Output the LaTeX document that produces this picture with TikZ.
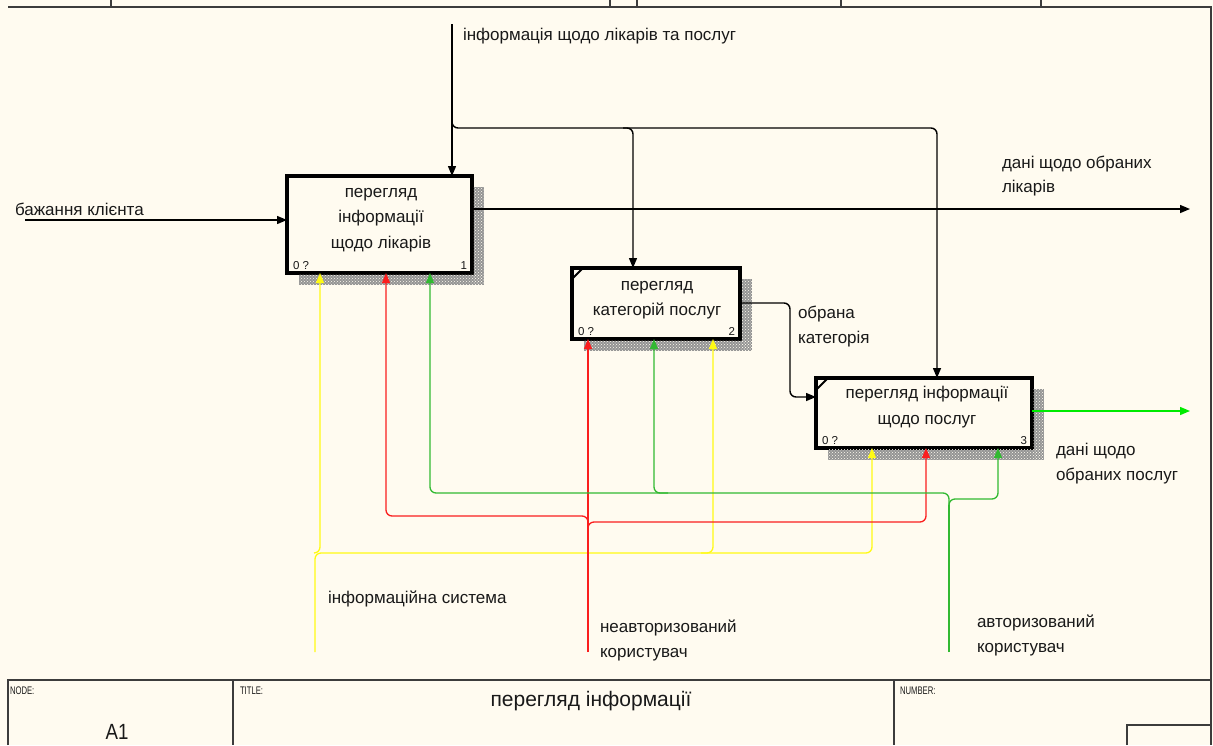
\documentclass[tikz,border=0pt]{standalone}
\usepackage{fontspec}
\setmainfont{Liberation Sans}
\usetikzlibrary{arrows.meta,calc,patterns}

\definecolor{paper}{RGB}{255,251,240}
\definecolor{ink}{RGB}{25,25,25}
\definecolor{framec}{RGB}{60,60,60}
\definecolor{idefyel}{RGB}{255,250,20}
\definecolor{idefred}{RGB}{250,30,30}
\definecolor{idefgrn}{RGB}{50,185,50}
\definecolor{outgrn}{RGB}{0,235,0}

\begin{document}
\begin{tikzpicture}[x=1pt,y=-1pt,
  every node/.style={inner sep=0pt, outer sep=0pt, text=ink},
  lbl/.style={anchor=base west, font=\fontsize{17}{20}\selectfont},
  boxtxt/.style={align=center, font=\fontsize{17}{25.5}\selectfont},
  box/.style={draw=black, line width=3.2pt, fill=paper},
  num/.style={font=\fontsize{11.5}{12}\selectfont},
  frame/.style={draw=framec, line width=1.8pt},
  tip/.style={-{Triangle[length=10pt,width=8pt]}},
  blk/.style={draw=black, line width=1.4pt, rounded corners=6pt},
  yel/.style={draw=idefyel, line width=1.3pt, rounded corners=6pt},
  red/.style={draw=idefred, line width=1.3pt, rounded corners=6pt},
  grn/.style={draw=idefgrn, line width=1.3pt, rounded corners=6pt},
  shadebase/.style={fill=black!42},
  shade/.style={pattern=crosshatch dots, pattern color=paper}
]
% sheet and frame
\path[use as bounding box, fill=paper] (0,0) rectangle (1213,745);
\draw[frame] (8,7) -- (1211,7) -- (1211,745);
\foreach \x in {111,610,637,841,1041} \draw[frame] (\x,0) -- (\x,7);

% activity boxes
\node[box, minimum width=185pt, minimum height=97pt] (b1) at (379.5,224.5) {};
\node[box, minimum width=168pt, minimum height=71pt] (b2) at (656,303.5) {};
\node[box, minimum width=216pt, minimum height=70pt] (b3) at (924,413) {};

% hatched shadows
\foreach \b in {b1,b2,b3} {
  \fill[shadebase] ($(\b.north east)+(1.6,11)$) rectangle ($(\b.south east)+(12,12)$);
  \fill[shadebase] ($(\b.south west)+(12,1.6)$) rectangle ($(\b.south east)+(12,12)$);
  \fill[shade] ($(\b.north east)+(1.6,11)$) rectangle ($(\b.south east)+(12,12)$);
  \fill[shade] ($(\b.south west)+(12,1.6)$) rectangle ($(\b.south east)+(12,12)$);
}
% corner marks of boxes 2 and 3
\draw[line width=1.8pt] ($(b2.north west)+(0,11)$) -- ($(b2.north west)+(11,0)$);
\draw[line width=1.8pt] ($(b3.north west)+(0,12)$) -- ($(b3.north west)+(12,0)$);

% box texts
\node[boxtxt] (b1t) at (381,220) {перегляд\\інформації\\щодо лікарів};
\node[boxtxt] (b2t) at (657,300) {перегляд\\категорій послуг};
\node[boxtxt] (b3t) at (927,407) {перегляд інформації\\щодо послуг};
\foreach \b/\n in {b1/1,b2/2,b3/3} {
  \node[num, anchor=base west] (\b z) at ($(\b.south west)+(6,-4)$) {0 ?};
  \node[num, anchor=base east] (\b n) at ($(\b.south east)+(-5,-4)$) {\n};
}

% attachment points
\coordinate (b1i) at ($(b1.north west)+(0,44)$);
\coordinate (b1c) at ($(b1.north west)+(165,0)$);
\coordinate (b2c) at ($(b2.north west)+(61,0)$);
\coordinate (b3c) at ($(b3.north west)+(121,0)$);
\coordinate (b3i) at ($(b3.north west)+(0,19)$);
\coordinate (b1o) at ($(b1.north east)+(0,33)$);
\coordinate (b2o) at ($(b2.north east)+(0,35)$);
\coordinate (b3o) at ($(b3.north east)+(0,33)$);
\coordinate (b1y) at ($(b1.south west)+(33,0)$);
\coordinate (b1r) at ($(b1.south west)+(99,0)$);
\coordinate (b1g) at ($(b1.south west)+(143,0)$);
\coordinate (b2r) at ($(b2.south west)+(16,0)$);
\coordinate (b2g) at ($(b2.south west)+(82,0)$);
\coordinate (b2y) at ($(b2.south west)+(141,0)$);
\coordinate (b3y) at ($(b3.south west)+(56,0)$);
\coordinate (b3r) at ($(b3.south west)+(110,0)$);
\coordinate (b3g) at ($(b3.south west)+(182,0)$);

% free ends and bus levels
\coordinate (inL) at (25,220);
\coordinate (ctop) at (452,24);
\coordinate (cbus) at (0,128);
\coordinate (o1) at (1190,209);
\coordinate (o3) at (1190,411);
\coordinate (kink) at (790,0);
\coordinate (ysrc) at (315,652);
\coordinate (ybus) at (0,553);
\coordinate (rsrc) at (588,652);
\coordinate (rbusL) at (0,516);
\coordinate (rbusR) at (0,522);
\coordinate (gsrc) at (949,652);
\coordinate (gbusL) at (0,493);
\coordinate (gbusR) at (0,499);

% input
\draw[blk, tip] (inL) -- (b1i);
% control
\draw[blk, tip] (ctop) -- (b1c);
\draw[blk, tip] ($(ctop |- cbus)+(0,-8)$) -- (ctop |- cbus) -- (b3c |- cbus) -- (b3c);
\draw[blk, tip] ($(b2c |- cbus)+(-10,0)$) -- (b2c |- cbus) -- (b2c);
% outputs
\draw[blk, tip] (b1o) -- (o1);
\draw[blk, tip] (b2o) -- (b2o -| kink) -- (kink |- b3i) -- (b3i);
\draw[draw=outgrn, line width=1.4pt, tip] (b3o) -- (o3);

% mechanism: information system
\draw[yel, tip] (ysrc) -- (ysrc |- ybus) -- (b3y |- ybus) -- (b3y);
\draw[yel, tip] ($(b1y |- ybus)+(-6,0)$) -- (b1y |- ybus) -- (b1y);
\draw[yel, tip] ($(b2y |- ybus)+(-12,0)$) -- (b2y |- ybus) -- (b2y);
% mechanism: unauthorised user
\draw[red, tip] (rsrc) -- (b2r);
\draw[red, tip] ($(rsrc |- rbusR)+(0,10)$) -- (rsrc |- rbusL) -- (b1r |- rbusL) -- (b1r);
\draw[red, tip] ($(rsrc |- rbusR)+(0,10)$) -- (rsrc |- rbusR) -- (b3r |- rbusR) -- (b3r);
% mechanism: authorised user
\draw[grn, tip] ($(gsrc |- gbusR)+(0,10)$) -- (gsrc |- gbusL) -- (b1g |- gbusL) -- (b1g);
\draw[grn] (gsrc) -- ($(gsrc |- gbusR)+(0,6)$);
\draw[grn, tip] ($(gsrc |- gbusR)+(0,10)$) -- (gsrc |- gbusR) -- (b3g |- gbusR) -- (b3g);
\draw[grn, tip] ($(b2g |- gbusL)+(14,0)$) -- (b2g |- gbusL) -- (b2g);

% arrow labels
\node[lbl] (l1) at (15,215) {бажання клієнта};
\node[lbl] (l2) at (463,40) {інформація щодо лікарів та послуг};
\node[lbl] (l3a) at (1002,168) {дані щодо обраних};
\node[lbl] (l3b) at (1002,192) {лікарів};
\node[lbl] (l4a) at (798,318) {обрана};
\node[lbl] (l4b) at (798,343) {категорія};
\node[lbl] (l5a) at (1056,455) {дані щодо};
\node[lbl] (l5b) at (1056,480) {обраних послуг};
\node[lbl] (l6) at (328,603) {інформаційна система};
\node[lbl] (l7a) at (600,632) {неавторизований};
\node[lbl] (l7b) at (600,657) {користувач};
\node[lbl] (l8a) at (977,627) {авторизований};
\node[lbl] (l8b) at (977,652) {користувач};

% title block
\draw[frame] (8,745) -- (8,680) -- (1211,680);
\draw[frame] (233,680) -- (233,745);
\draw[frame] (894,680) -- (894,745);
\draw[frame] (1127,745) -- (1127,725) -- (1211,725);
\node[anchor=base west, font=\fontsize{11}{12}\selectfont] (tnode) at (10,694) {\scalebox{0.7}[1]{NODE:}};
\node[anchor=base west, font=\fontsize{11}{12}\selectfont] (ttitle) at (240,694) {\scalebox{0.7}[1]{TITLE:}};
\node[anchor=base west, font=\fontsize{11}{12}\selectfont] (tnum) at (900,694) {\scalebox{0.7}[1]{NUMBER:}};
\node[anchor=base, font=\fontsize{22}{24}\selectfont] (tA1) at (117,739) {\scalebox{0.85}[1]{A1}};
\node[anchor=base, font=\fontsize{21}{24}\selectfont] (tname) at (591,706) {перегляд інформації};
\end{tikzpicture}
\end{document}
